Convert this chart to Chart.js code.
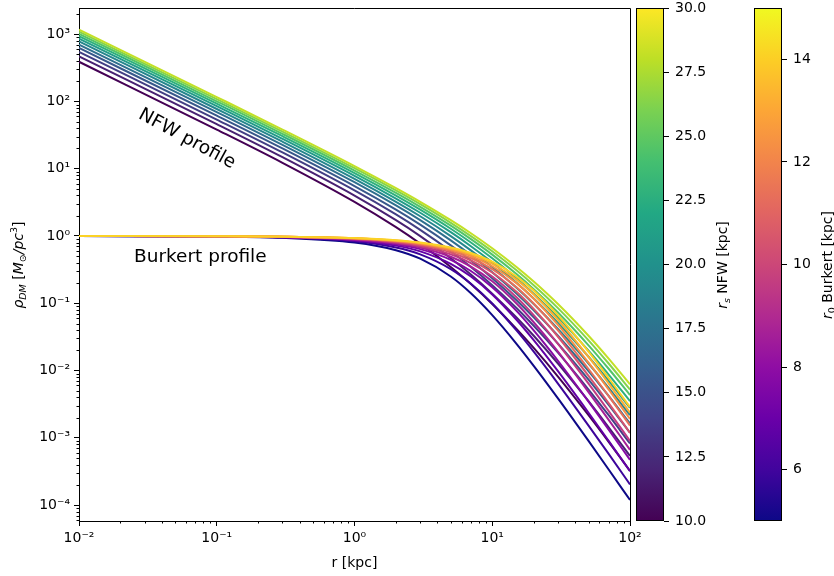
<!DOCTYPE html>
<html>
<head>
<meta charset="utf-8">
<script src="https://cdn.jsdelivr.net/npm/chart.js@4.4.1/dist/chart.umd.min.js"></script>
<style>
  body { margin: 0; background: #fff; }
  #wrap { position: relative; width: 834px; height: 576px; }
  canvas { position: absolute; top: 0; }
</style>
</head>
<body>
<div id="wrap">
  <canvas id="main" width="834" height="576" style="left:0"></canvas>
  <canvas id="cbNfw" width="100" height="576" style="left:636px"></canvas>
  <canvas id="cbBur" width="80" height="576" style="left:754px"></canvas>
</div>
<script>
// radius grid (kpc), shared by every curve
const rKpc = [0.01, 0.1, 0.3, 1, 2, 3, 5, 7, 10, 15, 20, 30, 50, 70, 100];

// NFW density, one array per scale radius rs (kpc)
const nfwRs = [10, 12, 14, 16, 18, 20, 22, 24, 26, 28, 30];
const nfw_rs10 = [389, 38.2, 12.25, 3.22, 1.354, 0.769, 0.3467, 0.1928, 0.0975, 0.0416, 0.02167, 0.008125, 0.002167, 0.000871, 0.000322];
const nfw_rs12 = [467, 46.0, 14.85, 3.99, 1.719, 0.998, 0.4664, 0.2667, 0.1392, 0.0616, 0.0329, 0.01273, 0.003506, 0.001432, 0.000537];
const nfw_rs14 = [545, 53.8, 17.44, 4.756, 2.09, 1.234, 0.5929, 0.3467, 0.1858, 0.0848, 0.04629, 0.01843, 0.005225, 0.002167, 0.000823];
const nfw_rs16 = [623, 61.6, 20.04, 5.527, 2.465, 1.475, 0.7245, 0.4314, 0.2363, 0.1108, 0.06163, 0.02516, 0.007334, 0.003086, 0.001187];
const nfw_rs18 = [701, 69.4, 22.64, 6.3, 2.843, 1.719, 0.8599, 0.5199, 0.2901, 0.1392, 0.07876, 0.03291, 0.009838, 0.004196, 0.001634];
const nfw_rs20 = [779, 77.2, 25.24, 7.075, 3.223, 1.966, 0.998, 0.6114, 0.3467, 0.1698, 0.0975, 0.0416, 0.01273, 0.005503, 0.002167];
const nfw_rs22 = [857, 85.0, 27.84, 7.85, 3.605, 2.215, 1.139, 0.7054, 0.4055, 0.2022, 0.1177, 0.05119, 0.01602, 0.007009, 0.00279];
const nfw_rs24 = [935, 92.8, 30.43, 8.626, 3.988, 2.465, 1.282, 0.8015, 0.4664, 0.2363, 0.1392, 0.06163, 0.01969, 0.008717, 0.003506];
const nfw_rs26 = [1013, 100.6, 33.03, 9.403, 4.372, 2.717, 1.427, 0.8992, 0.5289, 0.2718, 0.162, 0.07286, 0.02373, 0.01063, 0.004318];
const nfw_rs28 = [1091, 108.4, 35.63, 10.18, 4.756, 2.97, 1.572, 0.998, 0.5929, 0.3087, 0.1858, 0.0848, 0.02814, 0.01273, 0.005225];
const nfw_rs30 = [1169, 116.2, 38.23, 10.96, 5.142, 3.223, 1.719, 1.099, 0.6581, 0.3467, 0.2106, 0.0975, 0.03291, 0.01504, 0.006231];

// Burkert density, one array per core radius r0 (kpc)
const burkertR0 = [5, 6, 7, 8, 9, 10, 11, 12, 13, 14, 15];
const bur_r05 = [0.998, 0.98, 0.94, 0.8013, 0.6158, 0.4596, 0.25, 0.1408, 0.06667, 0.025, 0.01176, 0.003861, 0.0009, 0.0003384, 0.0001188];
const bur_r06 = [0.9983, 0.9834, 0.95, 0.834, 0.675, 0.5333, 0.3219, 0.1955, 0.09926, 0.03941, 0.01906, 0.00641, 0.001521, 0.0005758, 0.000203];
const bur_r07 = [0.9986, 0.9857, 0.9571, 0.8575, 0.7191, 0.5914, 0.3863, 0.25, 0.1354, 0.0569, 0.02829, 0.009769, 0.002361, 0.0009, 0.000319];
const bur_r08 = [0.9988, 0.9875, 0.9625, 0.8752, 0.7529, 0.6376, 0.4425, 0.3021, 0.1734, 0.07703, 0.03941, 0.01398, 0.003443, 0.001322, 0.0004711];
const bur_r09 = [0.9989, 0.9889, 0.9667, 0.889, 0.7797, 0.675, 0.4912, 0.3505, 0.212, 0.09926, 0.05226, 0.01906, 0.004787, 0.001853, 0.0006634];
const bur_r10 = [0.999, 0.99, 0.97, 0.9001, 0.8013, 0.7057, 0.5333, 0.3948, 0.25, 0.1231, 0.06667, 0.025, 0.00641, 0.0025, 0.0009];
const bur_r11 = [0.9991, 0.9909, 0.9727, 0.9092, 0.8191, 0.7313, 0.5698, 0.435, 0.2868, 0.148, 0.08241, 0.0318, 0.008325, 0.003273, 0.001185];
const bur_r12 = [0.9992, 0.9917, 0.975, 0.9167, 0.834, 0.7529, 0.6015, 0.4712, 0.3219, 0.1734, 0.09926, 0.03941, 0.01054, 0.004178, 0.001521];
const bur_r13 = [0.9992, 0.9923, 0.9769, 0.9231, 0.8466, 0.7714, 0.6291, 0.5039, 0.3551, 0.1992, 0.117, 0.0478, 0.01307, 0.005222, 0.001912];
const bur_r14 = [0.9993, 0.9929, 0.9786, 0.9286, 0.8575, 0.7874, 0.6535, 0.5333, 0.3863, 0.2248, 0.1354, 0.0569, 0.0159, 0.00641, 0.002361];
const bur_r15 = [0.9993, 0.9933, 0.98, 0.9334, 0.8669, 0.8013, 0.675, 0.5599, 0.4154, 0.25, 0.1543, 0.06667, 0.01906, 0.007748, 0.00287];

// tick positions / labels
const xTicks = [0.01, 0.1, 1, 10, 100];
const xTickLabels = ['10\u207B\u00B2', '10\u207B\u00B9', '10\u2070', '10\u00B9', '10\u00B2'];
const yTicks = [1e-4, 1e-3, 1e-2, 1e-1, 1, 10, 100, 1000];
const yTickLabels = ['10\u207B\u2074', '10\u207B\u00B3', '10\u207B\u00B2', '10\u207B\u00B9', '10\u2070', '10\u00B9', '10\u00B2', '10\u00B3'];
const nfwBarTicks = [10, 12.5, 15, 17.5, 20, 22.5, 25, 27.5, 30];
const burBarTicks = [6, 8, 10, 12, 14];

const nfwSeries = [nfw_rs10, nfw_rs12, nfw_rs14, nfw_rs16, nfw_rs18, nfw_rs20, nfw_rs22, nfw_rs24, nfw_rs26, nfw_rs28, nfw_rs30];
const burSeries = [bur_r05, bur_r06, bur_r07, bur_r08, bur_r09, bur_r10, bur_r11, bur_r12, bur_r13, bur_r14, bur_r15];

// colormaps
const viridis = ['#440154', '#482475', '#414487', '#355f8d', '#2a788e', '#21918c', '#22a884', '#44bf70', '#7ad151', '#bddf26', '#fde725'];
const plasma = ['#0d0887', '#41049d', '#6a00a8', '#8f0da4', '#b12a90', '#cc4778', '#e16462', '#f2844b', '#fca636', '#fcce25', '#f0f921'];
const nfwColors = ['#440154', '#482172', '#423e84', '#38588b', '#2e6f8e', '#25868d', '#229c88', '#2eb07d', '#53c468', '#86d449', '#c3e026'];
const burColors = ['#0d0887', '#3c049b', '#6201a6', '#850aa5', '#a51f97', '#c03a83', '#d6546e', '#e7705a', '#f78d45', '#fcad33', '#fbd225'];

Chart.defaults.font.family = 'DejaVu Sans';
Chart.defaults.color = '#000';

function drawRich(ctx, parts, cx, cy, angle) {
    ctx.save();
    ctx.translate(cx, cy);
    ctx.rotate(angle);
    ctx.fillStyle = '#000';
    ctx.textAlign = 'left';
    ctx.textBaseline = 'alphabetic';
    let total = 0;
    parts.forEach(p => { ctx.font = p.font; p.w = ctx.measureText(p.t).width; total += p.w; });
    let xx = -total / 2;
    parts.forEach(p => { ctx.font = p.font; ctx.fillText(p.t, xx, p.dy); xx += p.w; });
    ctx.restore();
}

const F = 'DejaVu Sans';
const datasets = [];
nfwSeries.forEach((s, i) => {
    datasets.push({
        label: 'NFW rs=' + nfwRs[i],
        data: rKpc.map((r, j) => ({x: r, y: s[j]})),
        borderColor: nfwColors[i],
        order: 100 - i
    });
});
burSeries.forEach((s, i) => {
    datasets.push({
        label: 'Burkert r0=' + burkertR0[i],
        data: rKpc.map((r, j) => ({x: r, y: s[j]})),
        borderColor: burColors[i],
        order: 50 - i
    });
});

// frame, minor ticks, labels and the two annotations
const mainDecor = {
    id: 'mainDecor',
    afterDatasetsDraw(chart) {
        const ctx = chart.ctx;
        ctx.save();
        ctx.fillStyle = '#000';
        ctx.font = '18.5px ' + F;
        ctx.textBaseline = 'middle';
        ctx.textAlign = 'left';
        ctx.fillText('Burkert profile', 134, 257);
        ctx.translate(187, 139);
        ctx.rotate(28.3 * Math.PI / 180);
        ctx.textAlign = 'center';
        ctx.fillText('NFW profile', 0, 0);
        ctx.restore();
    },
    afterDraw(chart) {
        const {ctx, chartArea: a, scales: {x, y}} = chart;
        ctx.save();
        ctx.strokeStyle = '#000';
        ctx.lineWidth = 1;
        ctx.beginPath();
        ctx.moveTo(a.left, a.top + 0.5);
        ctx.lineTo(a.right + 0.5, a.top + 0.5);
        ctx.lineTo(a.right + 0.5, a.bottom);
        ctx.stroke();
        ctx.beginPath();
        for (let e = -3; e <= 3; e++) {
            for (let k = 2; k <= 9; k++) {
                const v = k * Math.pow(10, e);
                if (v > x.min && v < x.max) {
                    const px = Math.round(x.getPixelForValue(v)) + 0.5;
                    ctx.moveTo(px, a.bottom);
                    ctx.lineTo(px, a.bottom + 2.5);
                }
            }
        }
        for (let e = -5; e <= 3; e++) {
            for (let k = 2; k <= 9; k++) {
                const v = k * Math.pow(10, e);
                if (v > y.min && v < y.max) {
                    const py = Math.round(y.getPixelForValue(v)) + 0.5;
                    ctx.moveTo(a.left, py);
                    ctx.lineTo(a.left - 2.5, py);
                }
            }
        }
        ctx.stroke();
        ctx.restore();
        drawRich(ctx, [
            {t: '\u03C1', font: 'italic 14px ' + F, dy: 0},
            {t: 'DM', font: 'italic 9.5px ' + F, dy: 3},
            {t: ' [', font: '14px ' + F, dy: 0},
            {t: 'M', font: 'italic 14px ' + F, dy: 0},
            {t: '\u2299', font: '9.5px ' + F, dy: 3},
            {t: '/pc', font: 'italic 14px ' + F, dy: 0},
            {t: '3', font: '9.5px ' + F, dy: -6},
            {t: ']', font: '14px ' + F, dy: 0}
        ], 23, 265, -Math.PI / 2);
    }
};

new Chart(document.getElementById('main'), {
    type: 'line',
    data: {datasets: datasets},
    options: {
        responsive: false,
        animation: false,
        layout: {padding: {left: 0, top: 8, right: 204, bottom: 0}},
        elements: {
            line: {borderWidth: 2, cubicInterpolationMode: 'monotone'},
            point: {radius: 0}
        },
        plugins: {legend: {display: false}, tooltip: {enabled: false}},
        scales: {
            x: {
                type: 'logarithmic',
                min: 0.01,
                max: 100,
                afterBuildTicks: s => { s.ticks = xTicks.map(v => ({value: v})); },
                afterFit: s => { s.height = 55; s.paddingLeft = 0; s.paddingRight = 0; },
                ticks: {
                    autoSkip: false, maxRotation: 0, padding: 4,
                    font: {size: 14},
                    callback: v => xTickLabels[xTicks.indexOf(v)]
                },
                grid: {drawOnChartArea: false, tickLength: 5, color: '#000'},
                border: {color: '#000'},
                title: {display: true, text: 'r [kpc]', font: {size: 14}, padding: {top: 2}}
            },
            y: {
                type: 'logarithmic',
                min: 5.8e-5,
                max: 2450,
                afterBuildTicks: s => { s.ticks = yTicks.map(v => ({value: v})); },
                afterFit: s => { s.width = 79; s.paddingTop = 0; s.paddingBottom = 0; },
                ticks: {
                    autoSkip: false, padding: 4,
                    font: {size: 14},
                    callback: v => yTickLabels[yTicks.indexOf(v)]
                },
                grid: {drawOnChartArea: false, tickLength: 5, color: '#000'},
                border: {color: '#000'}
            }
        }
    },
    plugins: [mainDecor]
});

function colorbar(id, stops, lo, hi, tickVals, fmt, width, labelParts, labelX) {
    const deco = {
        id: 'cbDeco',
        afterDraw(chart) {
            const {ctx, chartArea: a} = chart;
            ctx.save();
            ctx.strokeStyle = '#000';
            ctx.lineWidth = 1;
            ctx.strokeRect(a.left + 0.5, a.top + 0.5, a.right - a.left - 1, a.bottom - a.top - 1);
            ctx.restore();
            drawRich(ctx, labelParts, labelX, 265, -Math.PI / 2);
        }
    };
    new Chart(document.getElementById(id), {
        type: 'bar',
        data: {
            labels: ['c'],
            datasets: [{
                data: [[lo, hi]],
                borderWidth: 0,
                barPercentage: 1,
                categoryPercentage: 1,
                backgroundColor: c => {
                    const a = c.chart.chartArea;
                    if (!a) return '#888';
                    const g = c.chart.ctx.createLinearGradient(0, a.bottom, 0, a.top);
                    stops.forEach((col, i) => g.addColorStop(i / (stops.length - 1), col));
                    return g;
                }
            }]
        },
        options: {
            responsive: false,
            animation: false,
            layout: {padding: {left: 0, top: 8, right: 0, bottom: 55}},
            plugins: {legend: {display: false}, tooltip: {enabled: false}},
            scales: {
                x: {display: false},
                y: {
                    position: 'right',
                    min: lo,
                    max: hi,
                    afterBuildTicks: s => { s.ticks = tickVals.map(v => ({value: v})); },
                    afterFit: s => { s.width = width - 28; s.paddingTop = 0; s.paddingBottom = 0; },
                    ticks: {padding: 6, font: {size: 14}, callback: fmt},
                    grid: {drawOnChartArea: false, tickLength: 5, color: '#000'},
                    border: {display: false}
                }
            }
        },
        plugins: [deco]
    });
}

colorbar('cbNfw', viridis, 10, 30, nfwBarTicks, v => v.toFixed(1), 100, [
    {t: 'r', font: 'italic 14px ' + F, dy: 0},
    {t: 's', font: 'italic 9.5px ' + F, dy: 3},
    {t: ' NFW [kpc]', font: '14px ' + F, dy: 0}
], 91);

colorbar('cbBur', plasma, 5, 15, burBarTicks, v => String(v), 80, [
    {t: 'r', font: 'italic 14px ' + F, dy: 0},
    {t: '0', font: '9.5px ' + F, dy: 3},
    {t: ' Burkert [kpc]', font: '14px ' + F, dy: 0}
], 78);
</script>
</body>
</html>
